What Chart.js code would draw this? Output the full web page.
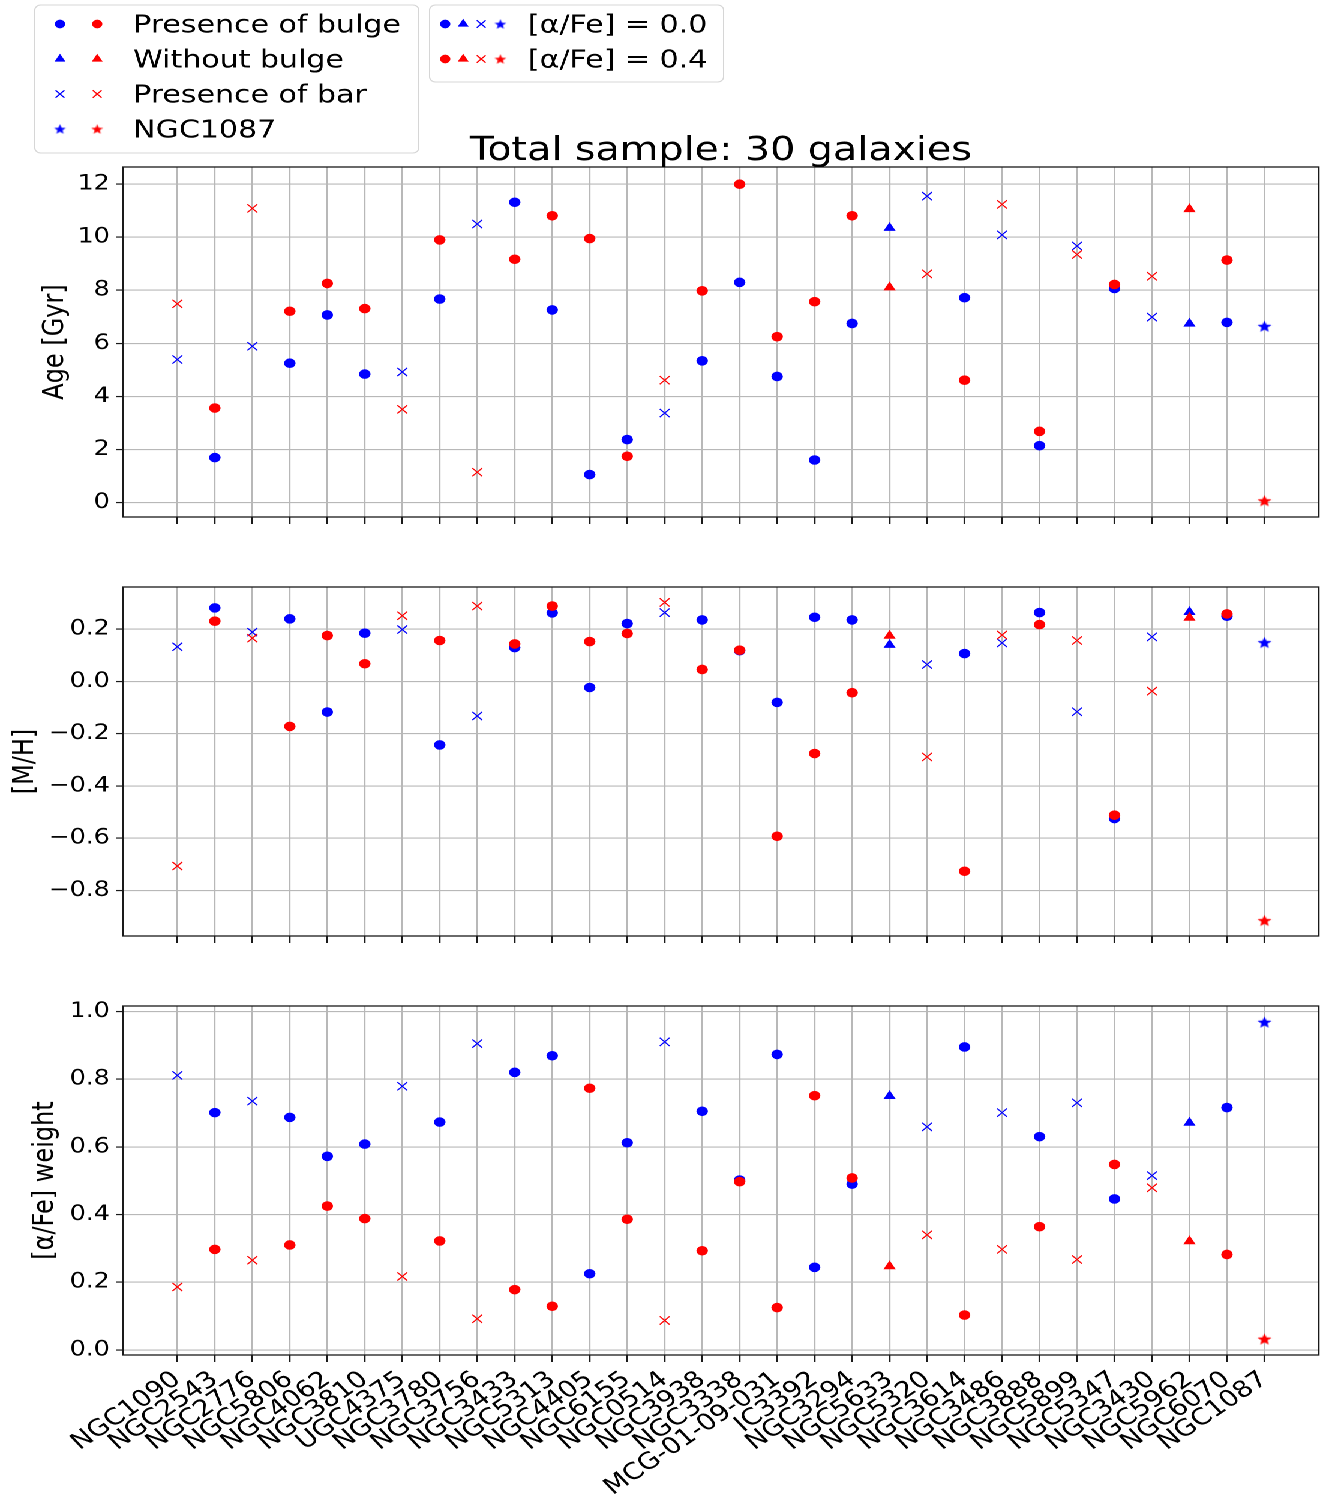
<!DOCTYPE html>
<html>
<head>
<meta charset="utf-8">
<script src="https://cdn.jsdelivr.net/npm/chart.js"></script>
<style>
  html, body { margin: 0; padding: 0; background: #fff; overflow: hidden; }
  /* the figure is laid out 1100px wide and stretched to the full 1320px */
  #fig { position: relative; width: 1100px; height: 1496px; transform: scaleX(1.2); transform-origin: 0 0; }
  #fig canvas { position: absolute; left: 0; }
</style>
</head>
<body>
<div id="fig">
  <canvas id="agePanel" width="1100" height="530" style="top:0px"></canvas>
  <canvas id="mhPanel" width="1100" height="369" style="top:580px"></canvas>
  <canvas id="weightPanel" width="1100" height="497" style="top:999px"></canvas>
</div>
<script>
const galaxies = ['NGC1090', 'NGC2543', 'NGC2776', 'NGC5806', 'NGC4062', 'NGC3810', 'UGC4375',
  'NGC3780', 'NGC3756', 'NGC3433', 'NGC5313', 'NGC4405', 'NGC6155', 'NGC0514', 'NGC3938',
  'NGC3338', 'MCG-01-09-031', 'IC3392', 'NGC3294', 'NGC5633', 'NGC5320', 'NGC3614', 'NGC3486',
  'NGC3888', 'NGC5899', 'NGC5347', 'NGC3430', 'NGC5962', 'NGC6070', 'NGC1087'];

// bulge = circle, nobulge = triangle, bar = x, special = star
const morphology = ['bar', 'bulge', 'bar', 'bulge', 'bulge', 'bulge', 'bar', 'bulge', 'bar', 'bulge',
  'bulge', 'bulge', 'bulge', 'bar', 'bulge', 'bulge', 'bulge', 'bulge', 'bulge', 'nobulge',
  'bar', 'bulge', 'bar', 'bulge', 'bar', 'bulge', 'bar', 'nobulge', 'bulge', 'special'];

// [alpha/Fe] = 0.0 models
const ageSolar = [5.39, 1.69, 5.89, 5.25, 7.07, 4.84, 4.92, 7.67, 10.50, 11.32, 7.26, 1.05, 2.37, 3.37, 5.34,
  8.30, 4.75, 1.60, 6.75, 10.35, 11.55, 7.72, 10.09, 2.14, 9.67, 8.07, 6.99, 6.74, 6.79, 6.64];
const mhSolar = [0.133, 0.282, 0.189, 0.240, -0.117, 0.185, 0.199, -0.243, -0.132, 0.130, 0.263, -0.023, 0.222, 0.264, 0.236,
  0.118, -0.080, 0.246, 0.236, 0.140, 0.065, 0.107, 0.148, 0.264, -0.116, -0.525, 0.171, 0.266, 0.250, 0.149];
const weightSolar = [0.811, 0.701, 0.735, 0.687, 0.572, 0.608, 0.779, 0.673, 0.905, 0.820, 0.869, 0.225, 0.612, 0.910, 0.705,
  0.502, 0.873, 0.244, 0.490, 0.750, 0.659, 0.895, 0.701, 0.630, 0.730, 0.446, 0.515, 0.671, 0.716, 0.968];

// [alpha/Fe] = 0.4 models
const ageEnhanced = [7.49, 3.56, 11.09, 7.21, 8.26, 7.31, 3.51, 9.90, 1.14, 9.17, 10.81, 9.95, 1.74, 4.61, 7.98,
  12.00, 6.25, 7.57, 10.81, 8.11, 8.62, 4.61, 11.24, 2.68, 9.35, 8.22, 8.53, 11.06, 9.14, 0.06];
const mhEnhanced = [-0.707, 0.231, 0.166, -0.172, 0.176, 0.068, 0.252, 0.157, 0.289, 0.144, 0.289, 0.153, 0.184, 0.303, 0.046,
  0.120, -0.593, -0.276, -0.043, 0.175, -0.289, -0.727, 0.178, 0.218, 0.157, -0.512, -0.037, 0.244, 0.259, -0.916];
const weightEnhanced = [0.186, 0.297, 0.265, 0.310, 0.425, 0.388, 0.217, 0.322, 0.092, 0.178, 0.129, 0.773, 0.386, 0.087, 0.293,
  0.497, 0.125, 0.751, 0.508, 0.247, 0.340, 0.103, 0.297, 0.364, 0.267, 0.548, 0.479, 0.321, 0.282, 0.032];

const ageTicks = [0, 2, 4, 6, 8, 10, 12];
const mhTicks = [-0.8, -0.6, -0.4, -0.2, 0.0, 0.2];
const weightTicks = [0.0, 0.2, 0.4, 0.6, 0.8, 1.0];

const shapeLabels = ['Presence of bulge', 'Without bulge', 'Presence of bar', 'NGC1087'];
const shapeKinds = ['bulge', 'nobulge', 'bar', 'special'];
const alphaLabels = ['[α/Fe] = 0.0', '[α/Fe] = 0.4'];

const BLUE = '#0000ff';
const RED = '#ff0000';
const GRID = '#b8b8b8';
const AXIS = '#1a1a1a';
const FONT = '"DejaVu Sans", sans-serif';

// filled five-pointed star, used as an image point style
function makeStar(color, outer) {
  const c = document.createElement('canvas');
  const size = Math.ceil(outer * 2 + 2);
  c.width = size; c.height = size;
  const g = c.getContext('2d');
  const inner = outer * 0.42;
  g.beginPath();
  for (let k = 0; k < 10; k++) {
    const r = k % 2 ? inner : outer;
    const a = -Math.PI / 2 + k * Math.PI / 5;
    const px = size / 2 + r * Math.cos(a), py = size / 2 + 0.5 + r * Math.sin(a);
    k ? g.lineTo(px, py) : g.moveTo(px, py);
  }
  g.closePath();
  g.fillStyle = color;
  g.fill();
  return c;
}
const stars = {
  [BLUE]: [makeStar(BLUE, 6.3), makeStar(BLUE, 5.2)],
  [RED]: [makeStar(RED, 6.3), makeStar(RED, 5.2)]
};

function markerOpts(kind, color, small) {
  const s = small ? 0.9 : 1;
  if (kind === 'bulge') return {pointStyle: 'circle', radius: 4.8 * s, borderWidth: 0, rotation: 0};
  if (kind === 'nobulge') return {pointStyle: 'triangle', radius: 5.9 * s, borderWidth: 0, rotation: 0};
  if (kind === 'bar') return {pointStyle: 'crossRot', radius: 5.8 * s, borderWidth: 1.1, rotation: 0};
  return {pointStyle: stars[color][small ? 1 : 0], radius: 5, borderWidth: 0, rotation: 0};
}

function series(values, color, label) {
  return {
    label: label,
    data: values.map((v, i) => ({x: i, y: v})),
    order: color === RED ? 0 : 1,
    pointStyle: c => markerOpts(morphology[c.dataIndex], color).pointStyle,
    pointRadius: c => markerOpts(morphology[c.dataIndex], color).radius,
    pointBorderWidth: c => markerOpts(morphology[c.dataIndex], color).borderWidth,
    pointBackgroundColor: color,
    pointBorderColor: color
  };
}

const framePlugin = {
  id: 'frame',
  afterDraw(chart) {
    const {ctx, chartArea: a} = chart;
    ctx.save();
    ctx.strokeStyle = AXIS;
    ctx.lineWidth = 1.3;
    ctx.strokeRect(a.left, a.top, a.right - a.left, a.bottom - a.top);
    ctx.restore();
  }
};

function legendBox(ctx, x, y, w, h) {
  const r = 5;
  ctx.beginPath();
  ctx.moveTo(x + r, y);
  ctx.arcTo(x + w, y, x + w, y + h, r);
  ctx.arcTo(x + w, y + h, x, y + h, r);
  ctx.arcTo(x, y + h, x, y, r);
  ctx.arcTo(x, y, x + w, y, r);
  ctx.closePath();
  ctx.fillStyle = 'rgba(255,255,255,0.8)';
  ctx.fill();
  ctx.strokeStyle = '#d6d6d6';
  ctx.lineWidth = 1;
  ctx.stroke();
}

function legendMarker(ctx, kind, color, x, y) {
  ctx.fillStyle = color;
  ctx.strokeStyle = color;
  ctx.lineWidth = 1.1;
  Chart.helpers.drawPoint(ctx, markerOpts(kind, color, true), x, y);
}

// figure title and the two legends above the first panel
const headerPlugin = {
  id: 'header',
  afterDraw(chart) {
    const {ctx, chartArea: a} = chart;
    ctx.save();
    ctx.fillStyle = '#000';
    ctx.font = '33px ' + FONT;
    ctx.textAlign = 'center';
    ctx.textBaseline = 'alphabetic';
    ctx.fillText('Total sample: 30 galaxies', (a.left + a.right) / 2, 160);

    legendBox(ctx, 29, 5, 320, 148);
    legendBox(ctx, 358, 5, 245, 77);

    ctx.font = '25px ' + FONT;
    ctx.textAlign = 'left';
    ctx.textBaseline = 'middle';
    shapeLabels.forEach((label, i) => {
      const y = 24 + i * 35;
      legendMarker(ctx, shapeKinds[i], BLUE, 50, y);
      legendMarker(ctx, shapeKinds[i], RED, 81, y);
      ctx.fillStyle = '#000';
      ctx.fillText(label, 111, y + 2);
    });
    [BLUE, RED].forEach((color, i) => {
      const y = 24 + i * 35;
      [371, 386, 401, 417].forEach((x, k) => legendMarker(ctx, shapeKinds[k], color, x, y));
      ctx.fillStyle = '#000';
      ctx.fillText(alphaLabels[i], 440, y + 2);
    });
    ctx.restore();
  }
};

function xScale(showLabels, height) {
  return {
    type: 'linear',
    min: -1.45,
    max: 30.45,
    afterBuildTicks: s => { s.ticks = galaxies.map((g, i) => ({value: i})); },
    afterFit: s => { s.height = height; s.paddingLeft = 0; s.paddingRight = 0; },
    border: {display: false},
    grid: {color: GRID, lineWidth: 1.1, tickLength: 7, tickColor: AXIS, tickWidth: 1.2},
    ticks: {
      display: showLabels, autoSkip: false, minRotation: 39, maxRotation: 39, padding: 4,
      color: '#000', font: {family: FONT, size: 23},
      callback: v => galaxies[v]
    }
  };
}

function yScale(min, max, tickValues, fmt, title, titlePad) {
  return {
    type: 'linear',
    min: min,
    max: max,
    afterBuildTicks: s => { s.ticks = tickValues.map(v => ({value: v})); },
    afterFit: s => { s.width = 102.5; s.paddingTop = 0; s.paddingBottom = 0; },
    border: {display: false},
    grid: {color: GRID, lineWidth: 1.1, tickLength: 6, tickColor: AXIS, tickWidth: 1.2},
    ticks: {padding: 5, color: '#000', font: {family: FONT, size: 21}, callback: fmt},
    title: {
      display: true, text: title, color: '#000',
      font: {family: FONT, size: 24, lineHeight: 1.2},
      padding: {top: titlePad, bottom: 0}
    }
  };
}

const oneDecimal = v => v.toFixed(1).replace('-', '\u2212');

function panel(id, solar, enhanced, x, y, topPad, plugins) {
  return new Chart(document.getElementById(id), {
    type: 'scatter',
    data: {datasets: [series(solar, BLUE, '[α/Fe] = 0.0'), series(enhanced, RED, '[α/Fe] = 0.4')]},
    options: {
      responsive: false,
      devicePixelRatio: 2,
      animation: false,
      events: [],
      layout: {autoPadding: false, padding: {top: topPad, right: 1, left: 0, bottom: 0}},
      scales: {x: x, y: y},
      plugins: {legend: {display: false}, tooltip: {enabled: false}}
    },
    plugins: plugins
  });
}

panel('agePanel', ageSolar, ageEnhanced,
  xScale(false, 13),
  yScale(-0.55, 12.65, ageTicks, v => String(v), 'Age [Gyr]', 32),
  167, [framePlugin, headerPlugin]);

panel('mhPanel', mhSolar, mhEnhanced,
  xScale(false, 13),
  yScale(-0.975, 0.362, mhTicks, oneDecimal, '[M/H]', 7),
  7, [framePlugin]);

panel('weightPanel', weightSolar, weightEnhanced,
  xScale(true, 141),
  yScale(-0.015, 1.016, weightTicks, oneDecimal, '[α/Fe] weight', 23.5),
  7, [framePlugin]);
</script>
</body>
</html>
